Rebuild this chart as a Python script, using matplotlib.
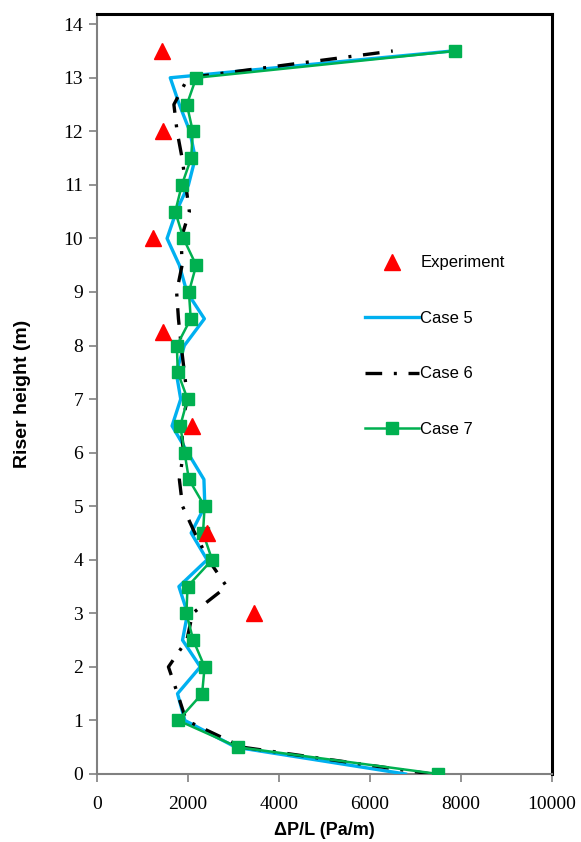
import matplotlib
matplotlib.use("Agg")
import matplotlib.pyplot as plt

heights = [0, 0.5, 1, 1.5, 2, 2.5, 3, 3.5, 4, 4.5, 5, 5.5, 6, 6.5, 7,
           7.5, 8, 8.5, 9, 9.5, 10, 10.5, 11, 11.5, 12, 12.5, 13, 13.5]
case5 = [6780, 3050, 1930, 1770, 2270, 1880, 1990, 1800, 2420, 2070, 2370, 2350, 1995, 1650, 1840,
         1740, 1920, 2360, 1975, 1810, 1540, 1740, 2010, 2160, 2040, 1810, 1610, 7810]
case6 = [7350, 3200, 1960, 1770, 1570, 1975, 2100, 2850, 2450, 2150, 1880, 1810, 1900, 1850, 1990,
         1920, 1850, 1790, 1750, 1870, 1850, 2030, 1950, 1870, 1760, 1690, 2000, 6500]
case7 = [7500, 3100, 1785, 2310, 2365, 2115, 1965, 1990, 2530, 2330, 2365, 2020, 1925, 1830, 1990,
         1775, 1755, 2060, 2020, 2180, 1900, 1720, 1865, 2070, 2105, 1975, 2180, 7860]
exp_x = [1420, 1440, 1220, 1460, 2090, 2420, 3460]
exp_y = [13.5, 12, 10, 8.25, 6.5, 4.5, 3]

xticks = [0, 2000, 4000, 6000, 8000, 10000]
yticks = list(range(0, 15))

serif = ["Liberation Serif", "DejaVu Serif"]
sans = ["Liberation Sans", "DejaVu Sans"]

fig = plt.figure(figsize=(5.81, 8.42), dpi=100)
fig.subplots_adjust(left=97/581, right=552/581, bottom=68/842, top=1-13.5/842)
ax = fig.add_subplot(111)

blue = "#00B0F0"
green = "#00B050"

l5, = ax.plot(case5, heights, color=blue, lw=2.4, label="Case 5", zorder=3)
l6, = ax.plot(case6, heights, color="black", lw=2.4, dashes=(5, 3.5, 0.9, 3.5),
              label="Case 6", zorder=4)
l7, = ax.plot(case7, heights, color=green, lw=1.8, marker="s", markersize=8,
              label="Case 7", zorder=5)
le, = ax.plot(exp_x, exp_y, ls="none", marker="^", color="#FF0000", markersize=11,
              label="Experiment", zorder=6)

ax.set_xlim(0, 10000)
ax.set_ylim(0, 14.2)
ax.set_xticks(xticks)
ax.set_yticks(yticks)
ax.set_xticklabels([str(t) for t in xticks], family=serif, fontsize=14)
ax.set_yticklabels([str(t) for t in yticks], family=serif, fontsize=14)
ax.tick_params(axis="both", direction="out", length=6, width=1.2, color="#808080")
ax.tick_params(axis="x", pad=10)
ax.tick_params(axis="y", pad=4)

for s in ["left", "bottom"]:
    ax.spines[s].set_color("#808080")
    ax.spines[s].set_linewidth(1.5)
for s in ["top", "right"]:
    ax.spines[s].set_color("black")
    ax.spines[s].set_linewidth(2.2)

ax.set_xlabel("ΔP/L (Pa/m)", family=sans, fontsize=13, fontweight="bold", labelpad=6)
ax.set_ylabel("Riser height (m)", family=sans, fontsize=14, fontweight="bold", labelpad=23)

leg = ax.legend(handles=[le, l5, l6, l7], loc="upper left", bbox_to_anchor=(0.59, 0.682),
                frameon=False, prop={"family": sans, "size": 12}, labelspacing=2.43,
                handlelength=3.2, handletextpad=0.1, borderpad=0, borderaxespad=0)

fig.savefig("out.png", dpi=100)
